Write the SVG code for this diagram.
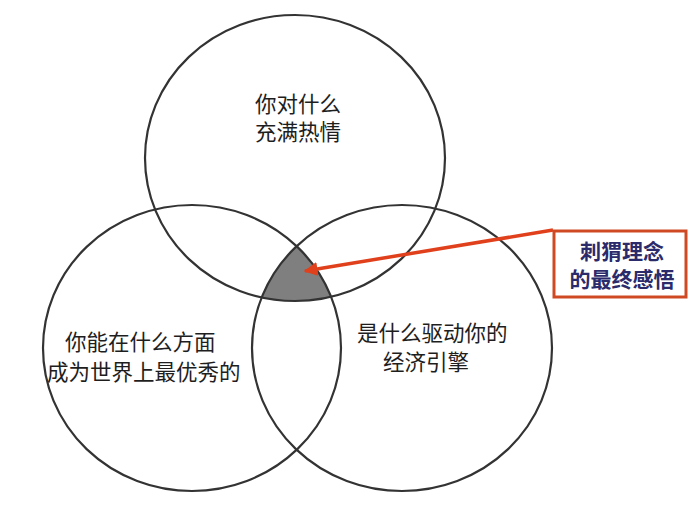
<svg xmlns="http://www.w3.org/2000/svg" width="690" height="529" viewBox="0 0 690 529">
<style>
.c{fill:none;stroke:#333;stroke-width:2.2}
.t{font-family:"Noto Sans CJK SC","Noto Sans",sans-serif;font-size:21.5px;fill:#1e1e1e}
.b{font-family:"Noto Sans CJK SC","Noto Sans",sans-serif;font-size:21px;font-weight:bold;fill:#2b2b6b;text-anchor:middle}
</style>
<defs>
<clipPath id="cL"><ellipse cx="192" cy="348" rx="149" ry="143"/></clipPath>
<clipPath id="cR"><ellipse cx="402" cy="348" rx="150" ry="143"/></clipPath>
<marker id="ah" viewBox="0 0 10 10" refX="9" refY="5" markerWidth="4" markerHeight="4" orient="auto" markerUnits="strokeWidth">
<path d="M0,0 L10,5 L0,10 z" fill="#e0401c"/>
</marker>
</defs>
<rect width="690" height="529" fill="#fff"/>
<g id="overlap" clip-path="url(#cL)"><g clip-path="url(#cR)"><ellipse cx="295" cy="158" rx="150" ry="143" fill="#7f7f7f"/></g></g>
<g id="top"><ellipse class="c" cx="295" cy="158" rx="150" ry="143"/>
<text class="t" x="255" y="112">你对什么</text><text class="t" x="255" y="140">充满热情</text></g>
<g id="left"><ellipse class="c" cx="192" cy="348" rx="149" ry="143"/>
<text class="t" x="65" y="350">你能在什么方面</text><text class="t" x="47" y="380">成为世界上最优秀的</text></g>
<g id="right"><ellipse class="c" cx="402" cy="348" rx="150" ry="143"/>
<text class="t" x="357" y="341">是什么驱动你的</text><text class="t" x="383" y="370">经济引擎</text></g>
<g id="connectors"><line x1="553" y1="230" x2="305" y2="271" stroke="#e0401c" stroke-width="3.5" marker-end="url(#ah)"/></g>
<g id="callout"><rect x="554" y="231" width="132" height="66" fill="#fff" stroke="#cf4a22" stroke-width="3"/>
<text class="b" x="622" y="259">刺猬理念</text><text class="b" x="622" y="287">的最终感悟</text></g>
</svg>
